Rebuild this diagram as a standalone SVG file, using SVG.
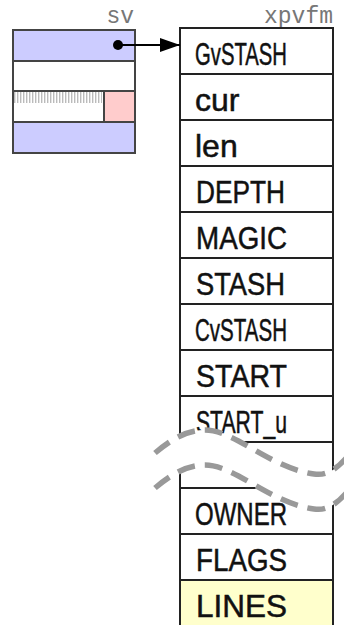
<svg xmlns="http://www.w3.org/2000/svg" width="344" height="625" viewBox="0 0 344 625">
<defs>
<style>
.lbl{font-family:"Liberation Mono","DejaVu Sans Mono",monospace;font-size:23px;fill:#777;text-anchor:end}
.cell{fill:#fff;stroke:#222;stroke-width:2}
.blue{fill:#ccccff;stroke:#444;stroke-width:2}
.pink{fill:#ffcccc;stroke:#444;stroke-width:2}
.yel{fill:#ffffcc;stroke:#222;stroke-width:2}
.t{font-family:"Liberation Sans",Arial,sans-serif;font-size:32px;fill:#111;stroke:#111;stroke-width:0.5}
.wave{fill:none;stroke:#999;stroke-width:5.5;stroke-dasharray:18 10}
</style>
<pattern id="hatch" x="14" y="0" width="3" height="20" patternUnits="userSpaceOnUse">
<rect x="0" y="0" width="1.4" height="20" fill="#bbb"/>
</pattern>
<marker id="arr" markerUnits="userSpaceOnUse" markerWidth="22" markerHeight="16" refX="20" refY="7" orient="auto">
<path d="M0,0 L20,7 L0,14 Z" fill="#000"/>
</marker>
</defs>
<rect width="344" height="625" fill="#fff"/>

<g id="sv">
<text class="lbl" x="134" y="23">sv</text>
<rect class="blue" x="13" y="30" width="122" height="31"/>
<rect class="cell" x="13" y="61" width="122" height="30" style="stroke:#444"/>
<rect class="cell" x="13" y="91" width="91" height="31" style="stroke:#444"/>
<rect x="14" y="92" width="88" height="11" fill="url(#hatch)"/>
<rect class="pink" x="104" y="91" width="31" height="31"/>
<rect class="blue" x="13" y="122" width="122" height="31"/>
</g>

<g id="xpvfm">
<text class="lbl" x="333" y="23">xpvfm</text>
<g id="row-gvstash"><rect class="cell" x="180" y="28" width="153" height="46"/><text class="t" x="195" y="65" textLength="92" lengthAdjust="spacingAndGlyphs">GvSTASH</text></g>
<g id="row-cur"><rect class="cell" x="180" y="74" width="153" height="46"/><text class="t" x="195" y="111">cur</text></g>
<g id="row-len"><rect class="cell" x="180" y="120" width="153" height="46"/><text class="t" x="195" y="157">len</text></g>
<g id="row-depth"><rect class="cell" x="180" y="166" width="153" height="46"/><text class="t" x="196" y="203" textLength="89" lengthAdjust="spacingAndGlyphs">DEPTH</text></g>
<g id="row-magic"><rect class="cell" x="180" y="212" width="153" height="46"/><text class="t" x="196" y="249" textLength="91" lengthAdjust="spacingAndGlyphs">MAGIC</text></g>
<g id="row-stash"><rect class="cell" x="180" y="258" width="153" height="46"/><text class="t" x="196" y="295" textLength="89" lengthAdjust="spacingAndGlyphs">STASH</text></g>
<g id="row-cvstash"><rect class="cell" x="180" y="304" width="153" height="46"/><text class="t" x="195" y="341" textLength="92" lengthAdjust="spacingAndGlyphs">CvSTASH</text></g>
<g id="row-start"><rect class="cell" x="180" y="350" width="153" height="46"/><text class="t" x="196" y="387" textLength="91" lengthAdjust="spacingAndGlyphs">START</text></g>
<g id="row-start-u"><rect class="cell" x="180" y="396" width="153" height="46"/><text class="t" x="196" y="433" textLength="91" lengthAdjust="spacingAndGlyphs">START_u</text></g>
<g id="row-gap"><rect class="cell" x="180" y="442" width="153" height="46"/></g>
<g id="row-owner"><rect class="cell" x="180" y="488" width="153" height="46"/><text class="t" x="195" y="525" textLength="92" lengthAdjust="spacingAndGlyphs">OWNER</text></g>
<g id="row-flags"><rect class="cell" x="180" y="534" width="153" height="46"/><text class="t" x="196" y="571" textLength="91" lengthAdjust="spacingAndGlyphs">FLAGS</text></g>
<g id="row-lines"><rect class="yel" x="180" y="580" width="153" height="48"/><text class="t" x="196" y="617" textLength="91" lengthAdjust="spacingAndGlyphs">LINES</text></g>
</g>

<g id="break">
<path d="M152 456 C175 436,190 430,205 430 C235 430,270 468,314 474 C326 476,336 470,348 456 L348 491 C336 505,326 511,314 509 C270 503,235 465,205 465 C190 465,175 471,152 491 Z" fill="#fff"/>
<path class="wave" d="M155 453 C175 436,190 430,205 430 C235 430,270 468,314 474 C326 476,336 470,348 456"/>
<path class="wave" d="M155 488 C175 471,190 465,205 465 C235 465,270 503,314 509 C326 511,336 505,348 491"/>
</g>

<g id="connectors">
<circle cx="118" cy="45" r="5" fill="#000"/>
<line x1="118" y1="45" x2="180" y2="45" stroke="#000" stroke-width="2" marker-end="url(#arr)"/>
</g>
</svg>
